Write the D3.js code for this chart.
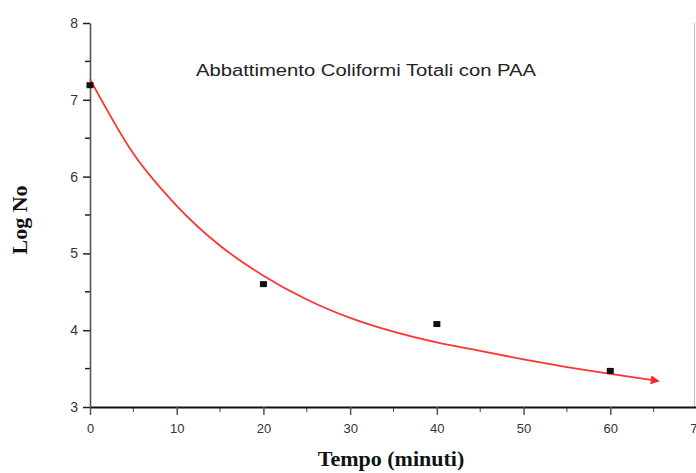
<!DOCTYPE html>
<html>
<head>
<meta charset="utf-8">
<script src="https://cdn.jsdelivr.net/npm/d3@7"></script>
<style>
  body { margin: 0; background: #fff; }
  svg { display: block; }
</style>
</head>
<body>
<svg id="chart" width="696" height="473"></svg>
<script>
/* data */
var tempi = [0, 20, 40, 60];
var logNo = [7.19, 4.60, 4.08, 3.47];

/* fitted curve, read at every 5 minutes */
var curvaT = [0, 5, 10, 15, 20, 25, 30, 35, 40, 45, 50, 55, 60, 65.5];
var curvaV = [7.27, 6.30, 5.62, 5.10, 4.71, 4.40, 4.16, 3.98, 3.84, 3.73, 3.62, 3.52, 3.43, 3.34];

var xTicks = [0, 10, 20, 30, 40, 50, 60, 70];
var yTicks = [3, 4, 5, 6, 7, 8];

var titolo = "Abbattimento Coliformi Totali con PAA";

var svg = d3.select('#chart');

var x = d3.scaleLinear().domain([0, 70]).range([90, 697]);
var y = d3.scaleLinear().domain([3, 8]).range([407, 23]);

/* right frame line */
svg.append('line')
  .attr('x1', 694.5).attr('x2', 694.5)
  .attr('y1', y(8)).attr('y2', y(3))
  .attr('stroke', '#bbb').attr('stroke-width', 1);

/* minor ticks */
var xMinor = d3.range(5, 70, 10);
var yMinor = d3.range(3.5, 8, 1);

svg.append('g').selectAll('line').data(xMinor).join('line')
  .attr('x1', function(d) { return x(d); }).attr('x2', function(d) { return x(d); })
  .attr('y1', y(3)).attr('y2', y(3) + 5)
  .attr('stroke', '#444').attr('stroke-width', 1);

svg.append('g').selectAll('line').data(yMinor).join('line')
  .attr('x1', x(0) - 5).attr('x2', x(0))
  .attr('y1', function(d) { return y(d); }).attr('y2', function(d) { return y(d); })
  .attr('stroke', '#222').attr('stroke-width', 1.5);

/* x axis */
var xAxis = svg.append('g')
  .attr('transform', 'translate(0,' + y(3) + ')')
  .call(d3.axisBottom(x).tickValues(xTicks).tickFormat(d3.format('d'))
    .tickSize(8).tickPadding(9).tickSizeOuter(0));
xAxis.select('.domain').attr('stroke', '#111').attr('stroke-width', 2);
xAxis.selectAll('.tick line').attr('stroke', '#555').attr('stroke-width', 1.5);
xAxis.selectAll('text')
  .attr('font-family', 'Liberation Sans, Arial, sans-serif')
  .attr('font-size', 13).attr('fill', '#333');

/* y axis */
var yAxis = svg.append('g')
  .attr('transform', 'translate(' + x(0) + ',0)')
  .call(d3.axisLeft(y).tickValues(yTicks).tickFormat(d3.format('d'))
    .tickSize(7).tickPadding(5).tickSizeOuter(0));
yAxis.select('.domain').attr('stroke', '#555').attr('stroke-width', 1.6);
yAxis.selectAll('.tick line').attr('stroke', '#222').attr('stroke-width', 1.5);
yAxis.selectAll('text')
  .attr('font-family', 'Liberation Sans, Arial, sans-serif')
  .attr('font-size', 14).attr('fill', '#333');

/* arrow head for the curve */
svg.append('defs').append('marker')
  .attr('id', 'freccia')
  .attr('viewBox', '0 0 10 10')
  .attr('refX', 8).attr('refY', 5)
  .attr('markerWidth', 5).attr('markerHeight', 5)
  .attr('markerUnits', 'strokeWidth')
  .attr('orient', 'auto')
  .append('path')
  .attr('d', 'M0,0 L10,5 L0,10 z')
  .attr('fill', '#f22');

var linea = d3.line()
  .x(function(d) { return x(d[0]); })
  .y(function(d) { return y(d[1]); })
  .curve(d3.curveMonotoneX);

svg.append('path')
  .datum(d3.zip(curvaT, curvaV))
  .attr('d', linea)
  .attr('fill', 'none')
  .attr('stroke', '#f33')
  .attr('stroke-width', 1.8)
  .attr('marker-end', 'url(#freccia)');

/* measured points */
svg.append('g').selectAll('rect').data(d3.zip(tempi, logNo)).join('rect')
  .attr('x', function(d) { return x(d[0]) - 3.5; })
  .attr('y', function(d) { return y(d[1]) - 3; })
  .attr('width', 7).attr('height', 6)
  .attr('fill', '#111');

/* title */
svg.append('text')
  .attr('x', 196).attr('y', 76)
  .attr('font-family', 'Liberation Sans, Arial, sans-serif')
  .attr('font-size', 16)
  .attr('textLength', 340).attr('lengthAdjust', 'spacingAndGlyphs')
  .attr('fill', '#222')
  .text(titolo);

/* axis titles */
svg.append('text')
  .attr('x', 391).attr('y', 466)
  .attr('text-anchor', 'middle')
  .attr('font-family', 'Liberation Serif, Times New Roman, serif')
  .attr('font-weight', 'bold')
  .attr('font-size', 22)
  .attr('fill', '#111')
  .text('Tempo (minuti)');

svg.append('text')
  .attr('transform', 'translate(27,220) rotate(-90)')
  .attr('text-anchor', 'middle')
  .attr('font-family', 'Liberation Serif, Times New Roman, serif')
  .attr('font-weight', 'bold')
  .attr('font-size', 22)
  .attr('fill', '#111')
  .text('Log No');
</script>
</body>
</html>
